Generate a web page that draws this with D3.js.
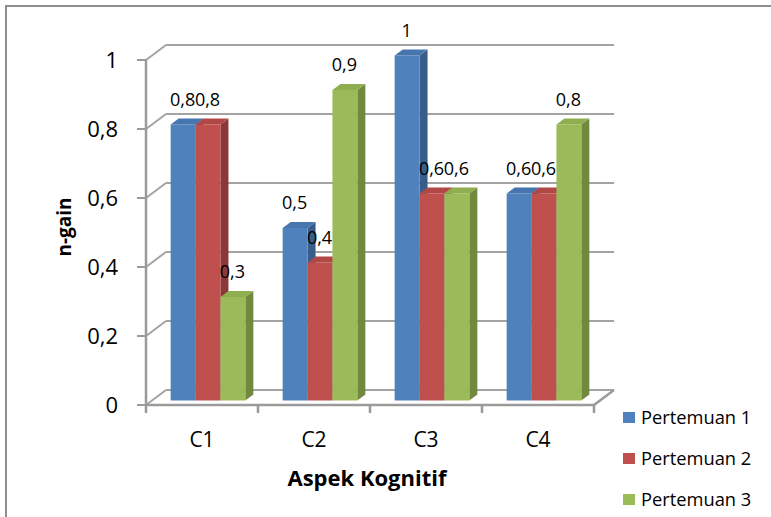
<!DOCTYPE html>
<html>
<head>
<meta charset="utf-8">
<script src="https://cdn.jsdelivr.net/npm/d3@7"></script>
<style>
  html, body { margin: 0; padding: 0; background: #fff; }
  svg { display: block; font-family: "Open Sans", Lato, sans-serif; }
</style>
</head>
<body>
<svg id="chart" width="771" height="517"></svg>
<script>
// n-gain per cognitive aspect, for three meetings
const categories = ["C1", "C2", "C3", "C4"];
const seriesNames = ["Pertemuan 1", "Pertemuan 2", "Pertemuan 3"];
const pertemuan1 = [0.8, 0.5, 1.0, 0.6];
const pertemuan2 = [0.8, 0.4, 0.6, 0.6];
const pertemuan3 = [0.3, 0.9, 0.6, 0.8];
const yTicks = [0, 0.2, 0.4, 0.6, 0.8, 1];
const yTickLabels = ["0", "0,2", "0,4", "0,6", "0,8", "1"];

const seriesValues = [pertemuan1, pertemuan2, pertemuan3];
const colors = {
  front: ["#4F81BD", "#C0504D", "#9BBB59"],
  side:  ["#385D8A", "#8C3836", "#71893F"],
  top:   ["#4775AD", "#B24845", "#8FAE50"]
};

const svg = d3.select("#chart");

// plot frame and oblique depth of the 3D box
const left = 146, right = 594, base = 405, topY = 60;
const DX = 20, DY = 15;            // wall depth offset
const zFront = 0.3, zBack = 0.7;   // bar depth within the box

const y = d3.scaleLinear().domain([0, 1]).range([base, topY]);
const x = d3.scaleBand().domain(categories).range([left, right]);
const xs = d3.scaleBand().domain(d3.range(3)).range([0, x.bandwidth()])
  .paddingInner(0).paddingOuter(0.75);

const gridColor = "#A3A3A3";
const axisColor = "#9A9A9A";

// outer chart border (left and top edges)
svg.append("path")
  .attr("d", "M6,517 L6,6 L771,6")
  .attr("fill", "none").attr("stroke", "#8E8E8E").attr("stroke-width", 2);

// back-wall gridlines and side-wall diagonals
const grid = svg.append("g");
yTicks.forEach(v => {
  grid.append("line")
    .attr("x1", left + DX).attr("x2", right + DX)
    .attr("y1", y(v) - DY).attr("y2", y(v) - DY)
    .attr("stroke", gridColor).attr("stroke-width", 2);
  grid.append("line")
    .attr("x1", left).attr("y1", y(v))
    .attr("x2", left + DX).attr("y2", y(v) - DY)
    .attr("stroke", gridColor).attr("stroke-width", 2);
});

// floor front edge and right edge
grid.append("path")
  .attr("d", `M${left},${base} L${right},${base} L${right + DX},${base - DY}`)
  .attr("fill", "none").attr("stroke", axisColor).attr("stroke-width", 2.5);

// category tick marks
categories.concat([null]).forEach((c, i) => {
  const tx = left + i * x.step();
  grid.append("line")
    .attr("x1", tx).attr("x2", tx).attr("y1", base).attr("y2", base + 8)
    .attr("stroke", axisColor).attr("stroke-width", 2.5);
});

// value axis
grid.append("line")
  .attr("x1", left).attr("x2", left).attr("y1", topY).attr("y2", base + 1)
  .attr("stroke", axisColor).attr("stroke-width", 2.5);
yTicks.forEach((v, i) => {
  grid.append("line")
    .attr("x1", left - 9).attr("x2", left).attr("y1", y(v)).attr("y2", y(v))
    .attr("stroke", axisColor).attr("stroke-width", 2);
  svg.append("text")
    .attr("x", 118).attr("y", y(v) + 8)
    .attr("text-anchor", "end")
    .attr("font-size", 22).attr("fill", "#000")
    .text(yTickLabels[i]);
});

// 3D bars, drawn left to right so neighbours cover side faces
const fx = zFront * DX, fy = zFront * DY;
const bdx = (zBack - zFront) * DX, bdy = (zBack - zFront) * DY;
const bars = svg.append("g");
const labels = svg.append("g");
categories.forEach((c, ci) => {
  seriesValues.forEach((vals, si) => {
    const v = vals[ci];
    const x0 = x(c) + xs(si) + fx;
    const x1 = x0 + xs.bandwidth();
    const yb = base - fy;
    const yt = y(v) - fy;
    const g = bars.append("g");
    // side face
    g.append("path")
      .attr("d", `M${x1},${yb} L${x1},${yt} L${x1 + bdx},${yt - bdy} L${x1 + bdx},${yb - bdy} Z`)
      .attr("fill", colors.side[si]);
    // front face
    g.append("rect")
      .attr("x", x0).attr("y", yt)
      .attr("width", xs.bandwidth()).attr("height", yb - yt)
      .attr("fill", colors.front[si]);
    // top face
    g.append("path")
      .attr("d", `M${x0},${yt} L${x1},${yt} L${x1 + bdx},${yt - bdy} L${x0 + bdx},${yt - bdy} Z`)
      .attr("fill", colors.top[si]);
    // value label
    labels.append("text")
      .attr("x", (x0 + x1) / 2 - 0.5).attr("y", yt - 19)
      .attr("text-anchor", "middle")
      .attr("font-size", 18).attr("fill", "#000")
      .text(String(v).replace(".", ","));
  });
});

// category labels
categories.forEach(c => {
  svg.append("text")
    .attr("x", x(c) + x.bandwidth() / 2).attr("y", 447)
    .attr("text-anchor", "middle")
    .attr("font-size", 21).attr("fill", "#000")
    .text(c);
});

// axis titles
svg.append("text")
  .attr("x", 367).attr("y", 486)
  .attr("text-anchor", "middle")
  .attr("font-size", 22).attr("font-weight", "bold").attr("fill", "#000")
  .text("Aspek Kognitif");

svg.append("text")
  .attr("transform", "translate(71,227) rotate(-90)")
  .attr("text-anchor", "middle")
  .attr("font-size", 19).attr("font-weight", "bold").attr("fill", "#000")
  .text("n-gain");

// legend
const legendY = [418, 459, 500];
seriesNames.forEach((name, i) => {
  svg.append("rect")
    .attr("x", 623).attr("y", legendY[i] - 6)
    .attr("width", 12).attr("height", 11)
    .attr("fill", colors.front[i]);
  svg.append("text")
    .attr("x", 641).attr("y", legendY[i] + 6)
    .attr("font-size", 18.3).attr("fill", "#000")
    .text(name);
});
</script>
</body>
</html>
